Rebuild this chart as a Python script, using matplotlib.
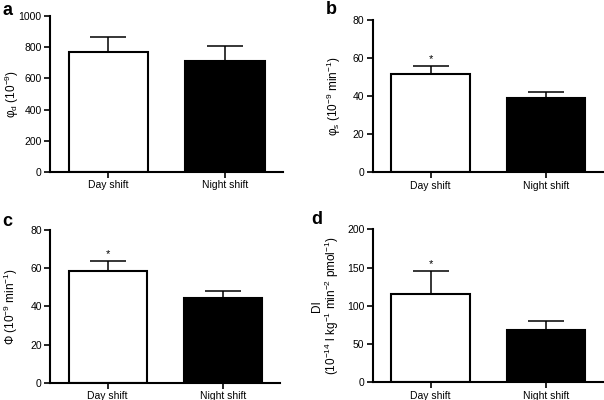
# day vs night shift comparison, 4 panels

import numpy as np
import matplotlib.pyplot as plt

plt.rcParams['font.family'] = ['Liberation Sans', 'DejaVu Sans']
plt.rcParams['mathtext.fontset'] = 'custom'
plt.rcParams['mathtext.rm'] = 'Liberation Sans'
plt.rcParams['mathtext.it'] = 'Liberation Sans'

groups = ['Day shift', 'Night shift']

phi_d = [768, 712]
phi_d_err = [97, 93]

phi_s = [51.5, 39.3]
phi_s_err = [4.5, 3.0]

phi_tot = [58.5, 44.3]
phi_tot_err = [5.5, 3.7]

di = [115, 69]
di_err = [31, 11]

# panel label, y label, values, errors, y max, y step, significant?
panels = [
    ('a', 'φ$_\\mathrm{d}$ (10$^{-9}$)', phi_d, phi_d_err, 1000, 200, False),
    ('b', 'φ$_\\mathrm{s}$ (10$^{-9}$ min$^{-1}$)', phi_s, phi_s_err, 80, 20, True),
    ('c', 'Φ (10$^{-9}$ min$^{-1}$)', phi_tot, phi_tot_err, 80, 20, True),
    ('d', 'DI\n(10$^{-14}$ l kg$^{-1}$ min$^{-2}$ pmol$^{-1}$)', di, di_err, 200, 50, True),
]

# axes rectangles in figure fraction
rects = [
    [0.083, 0.570, 0.386, 0.390],
    [0.617, 0.569, 0.383, 0.381],
    [0.083, 0.043, 0.381, 0.382],
    [0.617, 0.044, 0.383, 0.383],
]
label_pos = [(0.004, 0.995), (0.540, 0.998), (0.004, 0.468), (0.515, 0.472)]
ylabel_x = [-0.127, -0.13, -0.132, -0.135]

fig = plt.figure(figsize=(6.04, 4.0), dpi=100)

for (lab, ylab, vals, errs, ymax, step, sig), r, lp, yx in zip(panels, rects, label_pos, ylabel_x):
    ax = fig.add_axes(r)
    x = np.arange(len(groups))
    ax.bar(x, vals, width=0.68, color=['white', 'black'], edgecolor='black',
           linewidth=1.5, zorder=2)
    ax.errorbar(x, vals, yerr=[np.zeros(len(errs)), errs], fmt='none',
                ecolor='black', elinewidth=1.1, capsize=13, capthick=1.1, zorder=1)
    if sig:
        ax.text(0, vals[0] + errs[0] + ymax * 0.012, '*', ha='center', va='bottom',
                fontsize=8)
    ax.set_xlim(-0.5, 1.5)
    ax.set_ylim(0, ymax)
    ax.set_yticks(np.arange(0, ymax + 1, step))
    ax.set_xticks(x)
    ax.set_xticklabels(groups, fontsize=7.5)
    ax.tick_params(axis='y', labelsize=7.5, width=1.2, length=4, pad=2)
    ax.tick_params(axis='x', width=1.2, length=4, pad=2)
    for s in ['top', 'right']:
        ax.spines[s].set_visible(False)
    for s in ['left', 'bottom']:
        ax.spines[s].set_linewidth(1.5)
    ax.set_ylabel(ylab, fontsize=8.5, linespacing=1.05)
    ax.yaxis.set_label_coords(yx, 0.5)
    fig.text(lp[0], lp[1], lab, fontsize=13, fontweight='bold', ha='left', va='top')

fig.savefig('out.png', dpi=100)
